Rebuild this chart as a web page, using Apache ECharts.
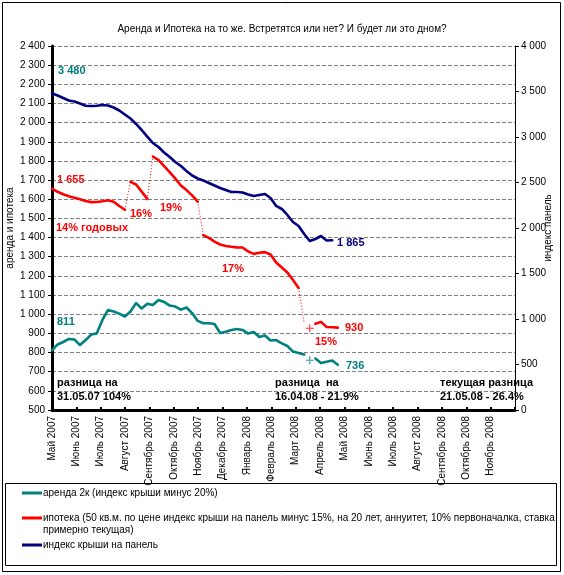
<!DOCTYPE html>
<html><head><meta charset="utf-8">
<script src="https://cdn.jsdelivr.net/npm/echarts@6/dist/echarts.min.js"></script>
<style>html,body{margin:0;padding:0;background:#fff}#c{width:564px;height:575px}</style>
</head><body><div id="c"></div><script>
// ---- data ----
const dates = ['2007-05-31','2007-06-07','2007-06-14','2007-06-21','2007-06-28','2007-07-05','2007-07-12','2007-07-19','2007-07-26','2007-08-02','2007-08-09','2007-08-16','2007-08-23','2007-08-30','2007-09-06','2007-09-13','2007-09-20','2007-09-27','2007-10-04','2007-10-11','2007-10-18','2007-10-25','2007-11-01','2007-11-08','2007-11-15','2007-11-22','2007-11-29','2007-12-06','2007-12-13','2007-12-20','2007-12-27','2008-01-03','2008-01-10','2008-01-17','2008-01-24','2008-01-31','2008-02-07','2008-02-14','2008-02-21','2008-02-28','2008-03-06','2008-03-13','2008-03-20','2008-03-27','2008-04-03','2008-04-10','2008-04-17','2008-04-24','2008-05-01','2008-05-08','2008-05-15','2008-05-22'];
const monthLabels = ['Май 2007','Июнь 2007','Июль 2007','Август 2007','Сентябрь 2007','Октябрь 2007','Ноябрь 2007','Декабрь 2007','Январь 2008','Февраль 2008','Март 2008','Апрель 2008','Май 2008','Июнь 2008','Июль 2008','Август 2008','Сентябрь 2008','Октябрь 2008','Ноябрь 2008'];
// аренда 2к (left axis)
const rentValues = [811,842,855,871,868,839,865,894,900,970,1022,1014,1003,988,1014,1058,1030,1055,1048,1074,1064,1045,1040,1024,1035,1006,965,953,953,949,902,909,918,923,918,899,907,881,889,863,865,848,834,805,798,790,760,769,745,752,758,736];
const rentSolid = [[0,45],[47,51]];
const rentMarks = [46];
// ипотека (left axis)
const mortgageValues = [1655,1639,1626,1616,1608,1600,1591,1585,1586,1590,1595,1587,1565,1545,1691,1677,1640,1602,1823,1805,1773,1742,1708,1672,1648,1620,1588,1413,1398,1379,1364,1356,1352,1349,1348,1327,1315,1321,1324,1312,1270,1244,1218,1179,1137,954,927,950,960,933,932,930];
const mortgageSolid = [[0,13],[14,17],[18,26],[27,44],[47,51]];
const mortgageDotted = [[13,14],[17,18],[26,27],[44,45]];
const mortgageMarks = [46];
// индекс крыши на панель (right axis)
const indexValues = [3480,3456,3429,3401,3390,3368,3344,3341,3344,3352,3346,3324,3291,3247,3203,3143,3077,3005,2934,2890,2830,2780,2725,2681,2626,2577,2544,2522,2495,2467,2440,2418,2396,2396,2390,2368,2352,2363,2374,2330,2242,2209,2143,2066,2022,1934,1857,1879,1912,1863,1865,null];
const indexSolid = [[0,50]];

const TEAL = '#008080', RED = '#FF0000', NAVY = '#000080';
const FONT = '"Liberation Sans", Arial, sans-serif';

// date -> month position on the axis (0 = first label)
const t0 = Date.UTC(2007,4,31);
const xPos = dates.map(d => { const p = d.split('-').map(Number); return (Date.UTC(p[0],p[1]-1,p[2]) - t0) / 86400000 / 30.4375; });
const pts = (vals, a, b) => { const r = []; for (let i = a; i <= b; i++) if (vals[i] != null) r.push([xPos[i], vals[i]]); return r; };

const series = [];
function addLine(vals, ranges, color, yi, dotted) {
  ranges.forEach(([a,b]) => series.push({
    type:'line', yAxisIndex: yi, data: pts(vals,a,b), symbol:'none', silent:true, animation:false,
    lineStyle: dotted ? {color, width:1, type:[1,2]} : {color, width:2.6, cap:'round', join:'round'}
  }));
}
function addMarks(vals, idx, color, yi) {
  series.push({type:'scatter', yAxisIndex: yi, data: idx.map(i => [xPos[i], vals[i]]),
    symbol:'path://M4,0h1.4v4.3h4.3v1.4h-4.3v4.3h-1.4v-4.3h-4.3v-1.4h4.3z', symbolSize:8,
    itemStyle:{color}, silent:true, animation:false});
}
addLine(indexValues, indexSolid, NAVY, 1, false);
addLine(mortgageValues, mortgageSolid, RED, 0, false);
addLine(mortgageValues, mortgageDotted, RED, 0, true);
addMarks(mortgageValues, mortgageMarks, RED, 0);
addLine(rentValues, rentSolid, TEAL, 0, false);
addMarks(rentValues, rentMarks, TEAL, 0);

const fmt = v => v >= 1000 ? Math.floor(v/1000) + ' ' + String(v % 1000).padStart(3,'0') : String(v);

function txt(x, y, s, color, size, bold) {
  return {type:'text', x, y, silent:true, style:{text:s, fill:color, font:(bold?'bold ':'') + size + 'px ' + FONT, verticalAlign:'middle', align:'left'}};
}
const graphic = [
  {type:'rect', shape:{x:2.5, y:2.5, width:558, height:569}, style:{fill:'none', stroke:'#000', lineWidth:1}, silent:true, z:-1},
  {type:'rect', shape:{x:5.5, y:483.5, width:551, height:82}, style:{fill:'none', stroke:'#000', lineWidth:1}, silent:true},
  {type:'line', shape:{x1:22, y1:493, x2:42, y2:493}, style:{stroke:TEAL, lineWidth:3}},
  {type:'line', shape:{x1:22, y1:518, x2:42, y2:518}, style:{stroke:RED, lineWidth:3}},
  {type:'line', shape:{x1:22, y1:545, x2:42, y2:545}, style:{stroke:NAVY, lineWidth:3}},
  txt(43, 493, 'аренда 2к (индекс крыши минус 20%)', '#000', 10, false),
  txt(43, 518, 'ипотека (50 кв.м. по цене индекс крыши на панель минус 15%, на 20 лет, аннуитет, 10% первоначалка, ставка', '#000', 10, false),
  txt(43, 530, 'примерно текущая)', '#000', 10, false),
  txt(43, 545, 'индекс крыши на панель', '#000', 10, false),
  // annotations
  txt(58, 71, '3 480', TEAL, 11, true),
  txt(57, 180, '1 655', RED, 11, true),
  txt(56, 228, '14% годовых', RED, 11, true),
  txt(130, 214, '16%', RED, 11, true),
  txt(160, 208, '19%', RED, 11, true),
  txt(222, 269, '17%', RED, 11, true),
  txt(337, 243, '1 865', NAVY, 11, true),
  txt(345, 328, '930', RED, 11, true),
  txt(315, 342, '15%', RED, 11, true),
  txt(346, 366, '736', TEAL, 11, true),
  txt(57, 322, '811', TEAL, 11, true),
  txt(57, 383, 'разница на', '#000', 11, true),
  txt(57, 397, '31.05.07 104%', '#000', 11, true),
  txt(275, 383, 'разница  на', '#000', 11, true),
  txt(275, 397, '16.04.08 - 21.9%', '#000', 11, true),
  txt(440, 383, 'текущая разница', '#000', 11, true),
  txt(440, 397, '21.05.08 - 26.4%', '#000', 11, true)
];

const chart = echarts.init(document.getElementById('c'), null, {renderer:'canvas'});
chart.setOption({
  animation:false,
  backgroundColor:'#fff',
  textStyle:{fontFamily:FONT},
  title:{text:'Аренда и Ипотека на то же. Встретятся или нет? И будет ли это дном?', left:'center', top:19,
    textStyle:{fontSize:10, fontWeight:'normal', color:'#000', fontFamily:FONT}},
  grid:{left:52, right:49, top:46, bottom:165, containLabel:false, outerBoundsMode:'none'},
  xAxis:{type:'value', min:0, max:19, interval:1,
    axisLine:{lineStyle:{color:'#000', width:3}},
    axisTick:{show:true, inside:true, length:3, lineStyle:{color:'#000', width:2}},
    axisLabel:{rotate:90, fontSize:10, color:'#000', margin:6, fontFamily:FONT, formatter: v => monthLabels[v] || ''},
    splitLine:{show:false}},
  yAxis:[
    {type:'value', position:'left', min:500, max:2400, interval:100,
      name:'аренда и ипотека', nameLocation:'middle', nameGap:37, nameRotate:90, nameMoveOverlap:false,
      nameTextStyle:{fontSize:10, color:'#000', fontFamily:FONT},
      axisLine:{show:true, lineStyle:{color:'#000', width:3}},
      axisTick:{show:true, length:4, lineStyle:{color:'#000', width:1}},
      axisLabel:{fontSize:10, color:'#000', margin:7, formatter:fmt, fontFamily:FONT},
      splitLine:{show:true, lineStyle:{color:'#808080', width:1, type:[4,2]}}},
    {type:'value', position:'right', min:0, max:4000, interval:500,
      name:'индекс панель', nameLocation:'middle', nameGap:28, nameRotate:90, nameMoveOverlap:false,
      nameTextStyle:{fontSize:10, color:'#000', fontFamily:FONT},
      axisLine:{show:true, lineStyle:{color:'#000', width:1}},
      axisTick:{show:true, length:4, lineStyle:{color:'#000', width:1}},
      axisLabel:{fontSize:10, color:'#000', margin:6, formatter:fmt, fontFamily:FONT},
      splitLine:{show:false}}
  ],
  series,
  graphic
});
</script></body></html>
